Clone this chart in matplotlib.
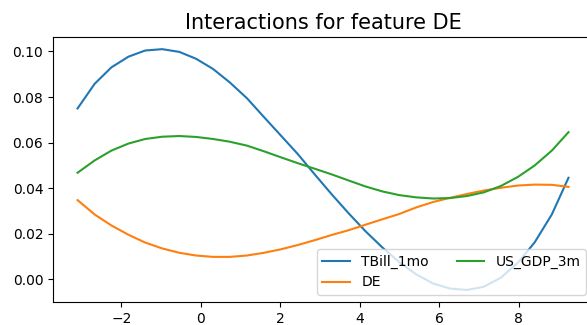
import matplotlib
matplotlib.use("Agg")
import matplotlib.pyplot as plt

# feature values along the x axis
x_vals = [-3.10, -2.67, -2.25, -1.82, -1.40, -0.97, -0.54, -0.12, 0.31, 0.73,
          1.16, 1.59, 2.01, 2.44, 2.86, 3.29, 3.72, 4.14, 4.57, 4.99,
          5.42, 5.85, 6.27, 6.70, 7.12, 7.55, 7.98, 8.40, 8.83, 9.25]

tbill_1mo = [0.0750, 0.0858, 0.0930, 0.0977, 0.1004, 0.1010, 0.0998, 0.0968, 0.0923, 0.0864,
             0.0795, 0.0712, 0.0632, 0.0550, 0.0462, 0.0374, 0.0290, 0.0212, 0.0140, 0.0076,
             0.0022, -0.0018, -0.0040, -0.0046, -0.0032, 0.0008, 0.0074, 0.0163, 0.0285, 0.0446]

de = [0.0348, 0.0285, 0.0237, 0.0196, 0.0162, 0.0136, 0.0117, 0.0105, 0.0099, 0.0099,
      0.0105, 0.0117, 0.0132, 0.0151, 0.0172, 0.0195, 0.0216, 0.0240, 0.0264, 0.0287,
      0.0316, 0.0340, 0.0358, 0.0375, 0.0390, 0.0402, 0.0412, 0.0416, 0.0415, 0.0406]

us_gdp_3m = [0.0468, 0.0522, 0.0565, 0.0596, 0.0616, 0.0626, 0.0629, 0.0625, 0.0616, 0.0604,
             0.0587, 0.0562, 0.0536, 0.0510, 0.0486, 0.0461, 0.0434, 0.0408, 0.0386, 0.0370,
             0.0360, 0.0355, 0.0357, 0.0366, 0.0382, 0.0410, 0.0450, 0.0500, 0.0565, 0.0646]


def plotInteractions():
    fig = plt.figure(figsize=(5.87, 3.25), dpi=100)
    ax = fig.add_axes([0.0903, 0.0708, 0.92, 0.815])

    ax.plot(x_vals, tbill_1mo, label='TBill_1mo')
    ax.plot(x_vals, de, label='DE')
    ax.plot(x_vals, us_gdp_3m, label='US_GDP_3m')

    ax.set_title('Interactions for feature DE', fontsize=15)
    ax.legend(loc='lower right', ncol=2)

    fig.savefig('out.png', dpi=100)


def main():
    plotInteractions()


if __name__ == "__main__":
    main()
